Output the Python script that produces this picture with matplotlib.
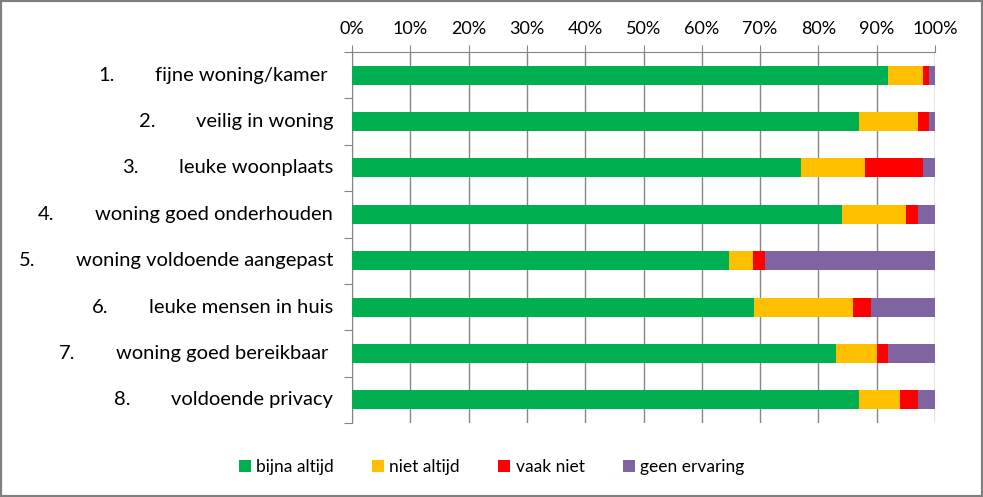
import numpy as np
import matplotlib.pyplot as plt
from matplotlib.patches import Rectangle
from matplotlib.ticker import PercentFormatter
import matplotlib.transforms as mtransforms

plt.rcParams['font.family'] = ['Lato', 'DejaVu Sans']

numbers = ['1.', '2.', '3.', '4.', '5.', '6.', '7.', '8.']
items = ['fijne woning/kamer ', 'veilig in woning', 'leuke woonplaats',
         'woning goed onderhouden', 'woning voldoende aangepast',
         'leuke mensen in huis', 'woning goed bereikbaar ', 'voldoende privacy']

series = ['bijna altijd', 'niet altijd', 'vaak niet', 'geen ervaring']
colors = ['#00B050', '#FFC000', '#FF0000', '#8064A2']

bijna_altijd = [92, 87, 77, 84, 64.6, 69, 83, 87]
niet_altijd = [6, 10, 11, 11, 4.1, 17, 7, 7]
vaak_niet = [1, 2, 10, 2, 2.1, 3, 2, 3]
geen_ervaring = [1, 1, 2, 3, 29.2, 11, 8, 3]

data = np.array([bijna_altijd, niet_altijd, vaak_niet, geen_ervaring], dtype=float)
data = data / data.sum(axis=0)

fig = plt.figure(figsize=(9.83, 4.97), dpi=100)
ax = fig.add_axes([352/983, 1-423/497, (935-352)/983, (423-52)/497])

y = np.arange(len(items))
left = np.zeros(len(items))
for vals, name, c in zip(data, series, colors):
    ax.barh(y, vals, left=left, height=0.41, color=c, label=name, zorder=3)
    left += vals

gray = '#868686'
ax.set_xlim(0, 1)
ax.set_ylim(len(items) - 0.5, -0.5)
ax.set_xticks(np.linspace(0, 1, 11))
ax.xaxis.set_major_formatter(PercentFormatter(1.0, decimals=0))
ax.xaxis.tick_top()
ax.tick_params(axis='x', length=5, color=gray, labelsize=13, pad=6)
ax.set_yticks(np.arange(-0.5, len(items)), labels=[])
ax.tick_params(axis='y', length=6, color=gray)
ax.grid(axis='x', color=gray, linewidth=1, zorder=0)
for s in ['right', 'bottom']:
    ax.spines[s].set_visible(False)
for s in ['left', 'top']:
    ax.spines[s].set_color(gray)

# labels: item text right-aligned, number a tab stop to its left
trans = mtransforms.offset_copy(ax.get_yaxis_transform(), fig=fig, x=-19, units='dots')
texts = []
for i, t in enumerate(items):
    texts.append(ax.text(0, i, t, transform=trans, ha='right', va='center', fontsize=14.5))
fig.canvas.draw()
r = fig.canvas.get_renderer()
for i, t in enumerate(texts):
    bb = t.get_window_extent(r)
    fig.text((bb.x0 - 57) / fig.bbox.width, bb.y0 / fig.bbox.height, numbers[i],
             ha='left', va='bottom', fontsize=14.5)

fig.legend(loc='center', bbox_to_anchor=(0.5, 1 - 467/497), ncol=4, frameon=False,
           handlelength=0.7, handleheight=0.7, handletextpad=0.3, columnspacing=2.2,
           fontsize=12.5)

fig.patches.append(Rectangle((0, 0), 1, 1, transform=fig.transFigure, fill=False,
                             edgecolor='#7f7f7f', linewidth=3))

fig.savefig('out.png', dpi=100)
